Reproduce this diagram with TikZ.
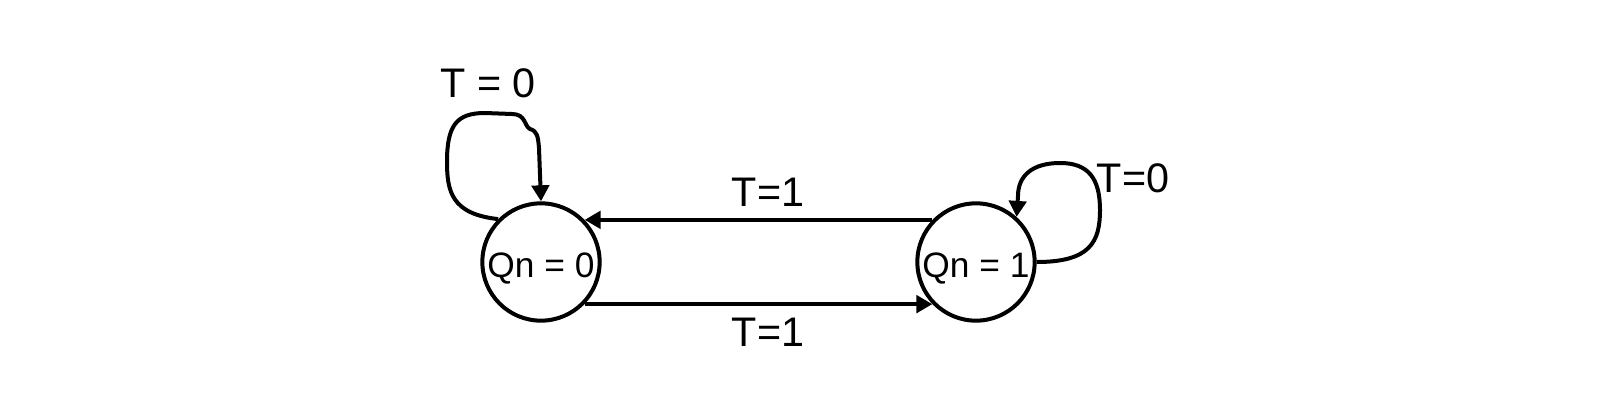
\documentclass[tikz,border=0pt]{standalone}
\usepackage{fontspec}
\setmainfont{Liberation Sans}
\usetikzlibrary{arrows.meta}

\tikzset{every picture/.style={line width=3pt}}
\tikzset{
  state/.style={draw, circle, minimum size=88pt, inner sep=0pt, text height=23.5pt, text depth=0pt, font=\fontsize{26.5}{31}\selectfont},
  lbl/.style={inner sep=0.75pt, font=\fontsize{31}{37}\selectfont},
  arr/.style={-{Triangle[length=12pt,width=13pt]}}
}

\begin{document}
\begin{tikzpicture}[x=0.75pt,y=0.75pt,yscale=-1,xscale=1]
\useasboundingbox (0,0) rectangle (1599,410);

%Shape: Circle
\node [state] (q0) at (541,262) {Qn = 0};
%Shape: Circle
\node [state] (q1) at (976,262) {Qn = 1};

%Straight Lines
\draw [arr] (q1.136) -- (q0.44) ;
%Straight Lines
\draw [arr] (q0.-44) -- (q1.-136) ;

%Curve Lines
\draw [arr] (q0.135) .. controls (452,214) and (447,192) .. (447,162)
  .. controls (447,126) and (456,113) .. (485,113) -- (512,114)
  .. controls (526,114) and (524,126) .. (530,129)
  .. controls (537,131) and (538,136) .. (539,148) -- (q0.north) ;
%Curve Lines
\draw [arr] (q1.east) .. controls (1090,262) and (1100,242) .. (1100,210)
  .. controls (1100,178) and (1088,163) .. (1060,163)
  .. controls (1032,163) and (1018,176) .. (1018,196) -- (q1.48) ;

% Text Node
\node [lbl] (t00) at (488,83) {T = 0};
% Text Node
\node [lbl] (t01) at (1133,178) {T=0};
% Text Node
\node [lbl] (t10) at (768,192) {T=1};
% Text Node
\node [lbl] (t11) at (768,332) {T=1};

\end{tikzpicture}
\end{document}
